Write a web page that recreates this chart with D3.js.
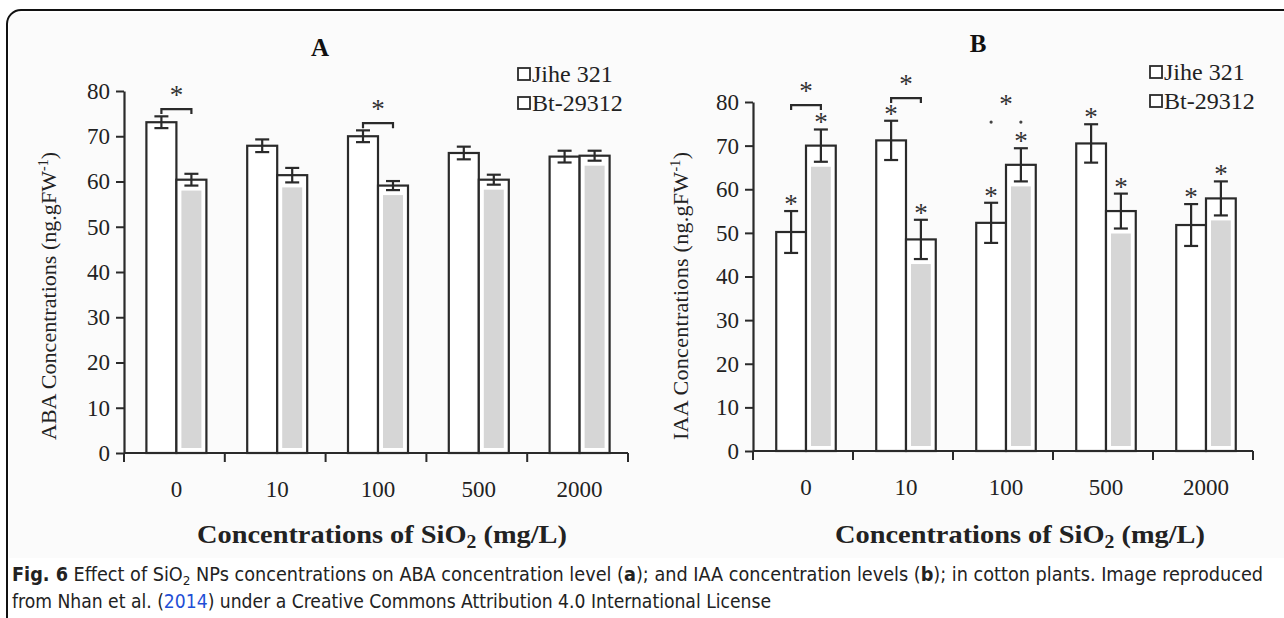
<!DOCTYPE html>
<html>
<head>
<meta charset="utf-8">
<script src="https://cdn.jsdelivr.net/npm/d3@7"></script>
<style>
  body { margin: 0; background: #fff; }
  svg { display: block; }
</style>
</head>
<body>
<svg id="stage" width="1284" height="618"></svg>
<script>
// data
var categories = ["0", "10", "100", "500", "2000"];
var series = ["Jihe 321", "Bt-29312"];
var yTicks = [0, 10, 20, 30, 40, 50, 60, 70, 80];

var abaJihe = [73.1, 67.9, 70, 66.3, 65.5];
var abaJiheErr = [1.3, 1.4, 1.3, 1.4, 1.3];
var abaBt = [60.4, 61.4, 59.1, 60.4, 65.7];
var abaBtErr = [1.3, 1.6, 1.0, 1.1, 1.1];
var abaBrackets = ["0", "100"];
var abaBracketVal = [76, 72.9];

var iaaJihe = [50.2, 71.2, 52.3, 70.5, 51.8];
var iaaJiheErr = [4.8, 4.5, 4.6, 4.4, 4.8];
var iaaBt = [70, 48.5, 65.6, 55, 57.9];
var iaaBtErr = [3.7, 4.5, 3.8, 4.0, 3.9];
var iaaBrackets = ["0", "10"];
var iaaBracketVal = [79.3, 80.9];

var svg = d3.select("#stage");
var serif = "'Liberation Serif', 'Times New Roman', serif";

// photo background + rounded frame
svg.append("rect").attr("x", 9).attr("y", 13).attr("width", 1290).attr("height", 545)
  .attr("fill", "#fbfbfb");
svg.append("rect").attr("x", 7).attr("y", 10).attr("width", 1320).attr("height", 660)
  .attr("rx", 14).attr("fill", "none").attr("stroke", "#111").attr("stroke-width", 2);

var drawPanel = function(p)
{
  var g = svg.append("g");
  var x0 = d3.scaleBand().domain(categories).range(p.xr).padding(0);
  var x1 = d3.scaleBand().domain(series).range([0, x0.bandwidth()]).paddingInner(0).paddingOuter(0.68);
  var y = d3.scaleLinear().domain([0, 80]).range(p.yr);
  var ink = "#2a2a2a";

  // y axis
  var yAxis = g.append("g").attr("transform", "translate(" + p.xr[0] + ",0)")
    .call(d3.axisLeft(y).tickValues(yTicks).tickSize(8).tickSizeOuter(0));
  yAxis.select(".domain").attr("stroke", ink).attr("stroke-width", 2.2);
  yAxis.selectAll(".tick line").attr("stroke", ink).attr("stroke-width", 2);
  yAxis.selectAll(".tick text").attr("x", -14).attr("font-family", serif)
    .attr("font-size", 23).attr("fill", "#222");

  // x axis: ticks on band edges
  var xAxis = g.append("g").attr("transform", "translate(0," + p.yr[0] + ")");
  xAxis.append("line").attr("x1", p.xr[0]).attr("x2", p.xr[1])
    .attr("stroke", ink).attr("stroke-width", 2.2);
  var edges = categories.map(function(c) { return x0(c) + x0.bandwidth(); });
  edges.unshift(p.xr[0]);
  xAxis.selectAll(".edge").data(edges).enter().append("line")
    .attr("x1", function(d) { return d; }).attr("x2", function(d) { return d; })
    .attr("y1", 0).attr("y2", 9).attr("stroke", ink).attr("stroke-width", 2);
  xAxis.selectAll(".lab").data(categories).enter().append("text")
    .attr("x", function(d) { return x0(d) + x0.bandwidth() / 2 + p.shift; })
    .attr("y", 44).attr("text-anchor", "middle")
    .attr("font-family", serif).attr("font-size", 23).attr("fill", "#222")
    .text(function(d) { return d; });

  // bars
  var rows = categories.map(function(c, i) {
    return [
      { cat: c, s: series[0], v: p.a[i], e: p.ae[i] },
      { cat: c, s: series[1], v: p.b[i], e: p.be[i] }
    ];
  });
  var groups = g.selectAll(".grp").data(rows).enter().append("g")
    .attr("transform", function(d) { return "translate(" + (x0(d[0].cat) + p.shift) + ",0)"; });
  groups.selectAll(".bar").data(function(d) { return d; }).enter().append("rect")
    .attr("x", function(d) { return x1(d.s); })
    .attr("y", function(d) { return y(d.v); })
    .attr("width", x1.bandwidth())
    .attr("height", function(d) { return y(0) - y(d.v); })
    .attr("fill", "#fff").attr("stroke", ink).attr("stroke-width", 2.2);
  // grey inset of the second series, starting under the error bar
  groups.selectAll(".inset").data(function(d) { return d.filter(function(r) { return r.s == series[1]; }); })
    .enter().append("rect")
    .attr("x", function(d) { return x1(d.s) + 5; })
    .attr("y", function(d) { return y(d.v - d.e) + 5; })
    .attr("width", x1.bandwidth() - 10)
    .attr("height", function(d) { return y(0) - y(d.v - d.e) - 10; })
    .attr("fill", "#d6d6d6");
  // error bars
  var eb = groups.selectAll(".err").data(function(d) { return d; }).enter().append("g")
    .attr("stroke", ink).attr("stroke-width", 2.2);
  var cx = function(d) { return x1(d.s) + x1.bandwidth() / 2; };
  eb.append("line").attr("x1", cx).attr("x2", cx)
    .attr("y1", function(d) { return y(d.v - d.e); }).attr("y2", function(d) { return y(d.v + d.e); });
  eb.append("line").attr("x1", function(d) { return cx(d) - 7; }).attr("x2", function(d) { return cx(d) + 7; })
    .attr("y1", function(d) { return y(d.v - d.e); }).attr("y2", function(d) { return y(d.v - d.e); });
  eb.append("line").attr("x1", function(d) { return cx(d) - 7; }).attr("x2", function(d) { return cx(d) + 7; })
    .attr("y1", function(d) { return y(d.v + d.e); }).attr("y2", function(d) { return y(d.v + d.e); });

  // stars over every bar
  if (p.stars) {
    groups.selectAll(".star").data(function(d) { return d; }).enter().append("text")
      .attr("x", cx).attr("y", function(d) { return y(d.v + d.e) + 2; })
      .attr("text-anchor", "middle").attr("font-family", serif).attr("font-size", 27)
      .attr("fill", "#333").text("*");
  }

  // significance brackets
  p.br.forEach(function(c, i) {
    var xa = x0(c) + p.shift + x1(series[0]) + x1.bandwidth() / 2;
    var xb = x0(c) + p.shift + x1(series[1]) + x1.bandwidth() / 2;
    var yy = y(p.brv[i]);
    g.append("path").attr("d", "M" + xa + "," + (yy + 5) + "V" + yy + "H" + xb + "V" + (yy + 5))
      .attr("fill", "none").attr("stroke", ink).attr("stroke-width", 2.2);
    g.append("text").attr("x", (xa + xb) / 2).attr("y", yy - 5).attr("text-anchor", "middle")
      .attr("font-family", serif).attr("font-size", 27).attr("fill", "#333").text("*");
  });
  if (p.dotCat) {
    var xa = x0(p.dotCat) + p.shift + x1(series[0]) + x1.bandwidth() / 2;
    var xb = x0(p.dotCat) + p.shift + x1(series[1]) + x1.bandwidth() / 2;
    var yy = y(p.dotVal);
    g.selectAll(".dot").data([xa, xb]).enter().append("circle")
      .attr("cx", function(d) { return d; }).attr("cy", yy).attr("r", 1.6).attr("fill", "#444");
    g.append("text").attr("x", (xa + xb) / 2).attr("y", yy - 9).attr("text-anchor", "middle")
      .attr("font-family", serif).attr("font-size", 27).attr("fill", "#333").text("*");
  }

  // panel letter
  g.append("text").attr("x", p.letterX).attr("y", p.letterY).attr("text-anchor", "middle")
    .attr("font-family", serif).attr("font-weight", "bold").attr("font-size", 25)
    .attr("fill", "#111").text(p.letter);

  // legend
  var lg = g.append("g").attr("transform", "translate(" + p.legX + "," + p.legY + ")");
  var li = lg.selectAll(".li").data(series).enter().append("g")
    .attr("transform", function(d, i) { return "translate(0," + i * 29 + ")"; });
  li.append("rect").attr("x", 0).attr("y", -14).attr("width", 12).attr("height", 12)
    .attr("fill", "#fff").attr("stroke", ink).attr("stroke-width", 1.8);
  li.append("text").attr("x", 14).attr("y", 0).attr("font-family", serif).attr("font-size", 24)
    .attr("fill", "#222").text(function(d) { return d; });

  // y title
  var yt = g.append("text")
    .attr("transform", "translate(" + p.ytX + "," + p.ytY + ") rotate(-90)")
    .attr("text-anchor", "middle").attr("font-family", serif).attr("font-size", 22)
    .attr("fill", "#222").attr("textLength", 288).attr("lengthAdjust", "spacing");
  yt.append("tspan").text(p.yTitle + " (ng.gFW");
  yt.append("tspan").attr("dy", -8).attr("font-size", 14).text("-1");
  yt.append("tspan").attr("dy", 8).text(")");

  // x title
  var xt = g.append("text").attr("x", p.xtX).attr("y", 543).attr("text-anchor", "middle")
    .attr("font-family", serif).attr("font-weight", "bold").attr("font-size", 26).attr("fill", "#222")
    .attr("textLength", 370).attr("lengthAdjust", "spacingAndGlyphs");
  xt.append("tspan").text("Concentrations of SiO");
  xt.append("tspan").attr("dy", 5).attr("font-size", 18).text("2");
  xt.append("tspan").attr("dy", -5).text(" (mg/L)");
};

drawPanel({ xr: [124, 628], yr: [453, 91], shift: 2, a: abaJihe, ae: abaJiheErr, b: abaBt, be: abaBtErr,
  br: abaBrackets, brv: abaBracketVal, stars: false,
  letter: "A", letterX: 320, letterY: 56, legX: 518, legY: 82,
  yTitle: "ABA Concentrations", ytX: 56, ytY: 296, xtX: 382 });

drawPanel({ xr: [753, 1253], yr: [451, 102], shift: 3, a: iaaJihe, ae: iaaJiheErr, b: iaaBt, be: iaaBtErr,
  br: iaaBrackets, brv: iaaBracketVal, stars: true, dotCat: "100", dotVal: 75.4,
  letter: "B", letterX: 978, letterY: 52, legX: 1150, legY: 80,
  yTitle: "IAA Concentrations", ytX: 688, ytY: 296, xtX: 1020 });

// caption
var cap = svg.append("g").attr("font-family", "'DejaVu Sans Condensed', 'DejaVu Sans', sans-serif")
  .attr("font-size", 19).attr("fill", "#222");
var l1 = cap.append("text").attr("x", 12).attr("y", 581)
  .attr("textLength", 1251).attr("lengthAdjust", "spacingAndGlyphs");
l1.append("tspan").attr("font-weight", "bold").text("Fig. 6");
l1.append("tspan").text(" Effect of SiO");
l1.append("tspan").attr("dy", 4).attr("font-size", 13).text("2");
l1.append("tspan").attr("dy", -4).text(" NPs concentrations on ABA concentration level (");
l1.append("tspan").attr("font-weight", "bold").text("a");
l1.append("tspan").text("); and IAA concentration levels (");
l1.append("tspan").attr("font-weight", "bold").text("b");
l1.append("tspan").text("); in cotton plants. Image reproduced");
var l2 = cap.append("text").attr("x", 12).attr("y", 608)
  .attr("textLength", 759).attr("lengthAdjust", "spacingAndGlyphs");
l2.append("tspan").text("from Nhan et al. (");
l2.append("tspan").attr("fill", "#1f4fd6").text("2014");
l2.append("tspan").text(") under a Creative Commons Attribution 4.0 International License");
</script>
</body>
</html>
